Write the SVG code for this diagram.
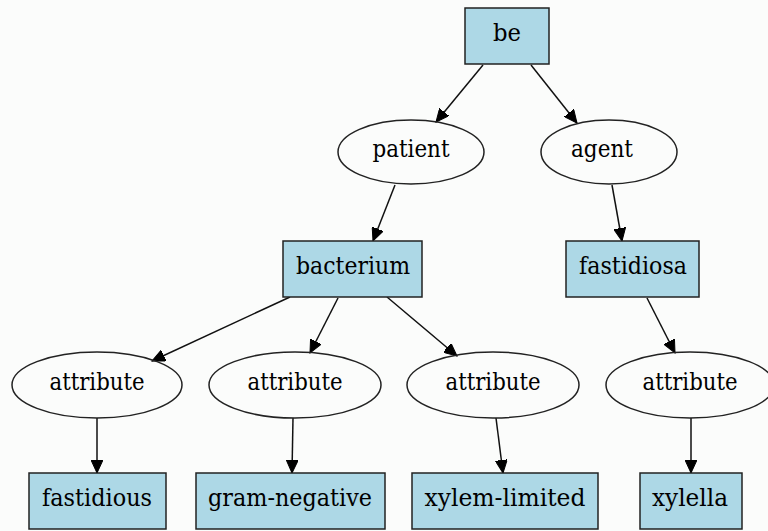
<svg xmlns="http://www.w3.org/2000/svg" width="768" height="531" viewBox="0 0 768 531">
<style>
.box{fill:#add8e6;stroke:#222;stroke-width:1.5}
.ell{fill:none;stroke:#222;stroke-width:1.5}
.e{stroke:#111;stroke-width:1.5;fill:none;marker-end:url(#ah)}
</style>
<defs>
<marker id="ah" markerUnits="userSpaceOnUse" markerWidth="14" markerHeight="12" viewBox="0 0 14 12" refX="13" refY="6" orient="auto">
<path d="M0,0 L13,6 L0,12 Z" fill="#000" stroke="#000" stroke-width="1"/>
</marker>
</defs>
<rect width="768" height="531" fill="#fbfcfb"/>
<g id="edges">
<line class="e" x1="483" y1="65" x2="436" y2="122"/>
<line class="e" x1="531" y1="65" x2="577" y2="123"/>
<line class="e" x1="395" y1="185" x2="373" y2="241"/>
<line class="e" x1="612" y1="185" x2="622" y2="241"/>
<line class="e" x1="290" y1="297" x2="152" y2="361"/>
<line class="e" x1="338" y1="298" x2="310" y2="353"/>
<line class="e" x1="387" y1="297" x2="457" y2="356"/>
<line class="e" x1="647" y1="298" x2="675" y2="353"/>
<line class="e" x1="97" y1="418" x2="97" y2="473"/>
<line class="e" x1="293" y1="418" x2="292" y2="473"/>
<line class="e" x1="496" y1="418" x2="503" y2="473"/>
<line class="e" x1="691" y1="418" x2="691" y2="473"/>
</g>
<g font-family="DejaVu Serif, Liberation Serif, serif" font-size="24" fill="#000" text-anchor="middle">
<g id="be"><rect class="box" x="465" y="8" width="84" height="56"/><text x="507" y="41" textLength="28" lengthAdjust="spacingAndGlyphs">be</text></g>
<g id="patient"><ellipse class="ell" cx="411" cy="152" rx="73" ry="32"/><text x="411" y="157" textLength="77" lengthAdjust="spacingAndGlyphs">patient</text></g>
<g id="agent"><ellipse class="ell" cx="609" cy="152" rx="68" ry="32"/><text x="602" y="157" textLength="62" lengthAdjust="spacingAndGlyphs">agent</text></g>
<g id="bacterium"><rect class="box" x="283" y="241" width="139" height="56"/><text x="353" y="274" textLength="114" lengthAdjust="spacingAndGlyphs">bacterium</text></g>
<g id="fastidiosa"><rect class="box" x="566" y="241" width="133" height="56"/><text x="633" y="274" textLength="108" lengthAdjust="spacingAndGlyphs">fastidiosa</text></g>
<g id="attribute1"><ellipse class="ell" cx="97" cy="385" rx="85" ry="33"/><text x="97" y="390" textLength="95" lengthAdjust="spacingAndGlyphs">attribute</text></g>
<g id="attribute2"><ellipse class="ell" cx="295" cy="385" rx="86" ry="33"/><text x="295" y="390" textLength="95" lengthAdjust="spacingAndGlyphs">attribute</text></g>
<g id="attribute3"><ellipse class="ell" cx="493" cy="385" rx="86" ry="33"/><text x="493" y="390" textLength="95" lengthAdjust="spacingAndGlyphs">attribute</text></g>
<g id="attribute4"><ellipse class="ell" cx="690" cy="385" rx="84" ry="33"/><text x="690" y="390" textLength="95" lengthAdjust="spacingAndGlyphs">attribute</text></g>
<g id="fastidious"><rect class="box" x="29" y="473" width="137" height="56"/><text x="97" y="506" textLength="110" lengthAdjust="spacingAndGlyphs">fastidious</text></g>
<g id="gram-negative"><rect class="box" x="196" y="473" width="189" height="56"/><text x="290" y="506" textLength="164" lengthAdjust="spacingAndGlyphs">gram-negative</text></g>
<g id="xylem-limited"><rect class="box" x="412" y="473" width="186" height="56"/><text x="505" y="506" textLength="161" lengthAdjust="spacingAndGlyphs">xylem-limited</text></g>
<g id="xylella"><rect class="box" x="640" y="473" width="102" height="56"/><text x="690" y="506" textLength="76" lengthAdjust="spacingAndGlyphs">xylella</text></g>
</g>
</svg>
